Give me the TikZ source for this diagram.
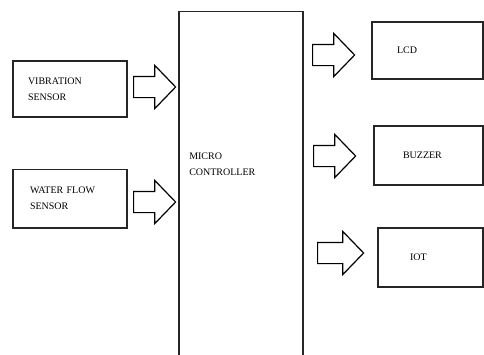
\documentclass[tikz,border=0pt]{standalone}
\usepackage{fontspec}
\setmainfont{Liberation Serif}
\usetikzlibrary{shapes.arrows}

\tikzset{
  blockbox/.style={draw=black!85, line width=1pt, fill=white, align=left, inner ysep=0pt,
    font=\fontsize{7.5}{12}\selectfont},
  blockarrow/.style={single arrow, draw=black, line width=0.9pt, fill=white, inner sep=0pt,
    anchor=tail, minimum height=31.5pt, single arrow head extend=8.25pt, single arrow tip angle=92},
  boxtext/.style={inner sep=0pt, align=left, font=\fontsize{7.5}{12}\selectfont}
}
\newcommand{\shaft}{\rule{0pt}{15pt}}

\begin{document}
\begin{tikzpicture}[x=0.75pt,y=0.75pt,yscale=-1,xscale=1]
\useasboundingbox (0,0) rectangle (484,354);
\clip (0,0) rectangle (484,354);

%Shape: Rectangle [micro controller]
\node [blockbox, minimum width=93pt, minimum height=260pt] (micro) at (241,184.5) {};
% Text Node
\node [boxtext, anchor=west] (microtxt) at (189,164) {MICRO\\CONTROLLER};

%Shape: Rectangle [inputs]
\node [blockbox, text width=63pt, inner xsep=11.25pt, minimum height=42pt] (vib) at (70,89) {VIBRATION\\SENSOR};
\node [blockbox, text width=60pt, inner xsep=12.75pt, minimum height=44pt] (water) at (70,198.5) {WATER FLOW\\SENSOR};

%Shape: Rectangle [outputs]
\node [blockbox, text width=45.75pt, inner xsep=18.75pt, minimum height=42.75pt] (lcd) at (427.5,50.5) {LCD};
\node [blockbox, text width=38.25pt, inner xsep=21.75pt, minimum height=44.25pt] (buzzer) at (428.5,155.5) {BUZZER};
\node [blockbox, text width=30.75pt, inner xsep=24pt, minimum height=44.25pt] (iot) at (430.5,257.5) {IOT};

%Shape: Block Arrows
\node [blockarrow] (vibarrow) at (133,87) {\shaft};
\node [blockarrow] (waterarrow) at (133,202) {\shaft};
\node [blockarrow] (lcdarrow) at (312,55) {\shaft};
\node [blockarrow] (buzzerarrow) at (313,156) {\shaft};
\node [blockarrow, minimum height=34.5pt] (iotarrow) at (317,253) {\shaft};

\end{tikzpicture}
\end{document}
